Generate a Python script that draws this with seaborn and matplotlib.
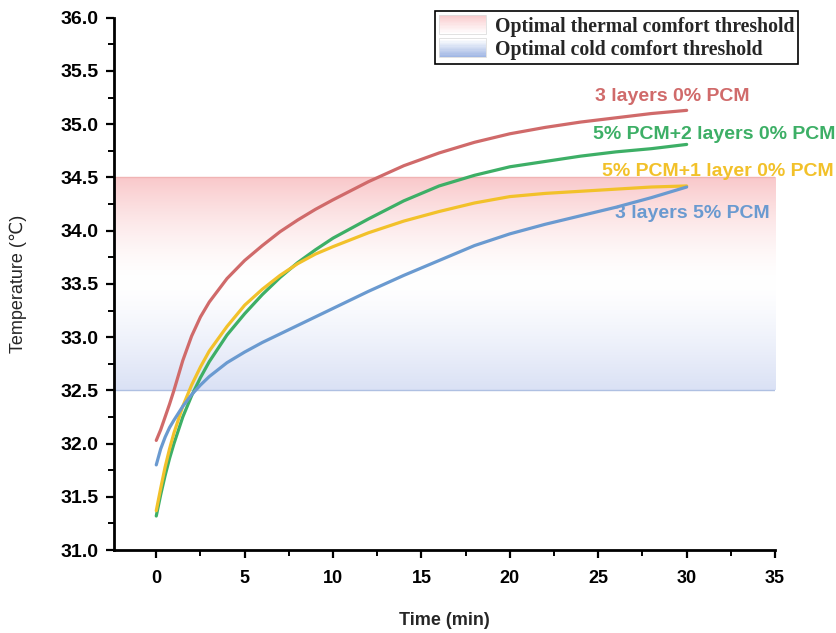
import numpy as np
import pandas as pd
import matplotlib
matplotlib.use("Agg")
import matplotlib.pyplot as plt
import seaborn as sns
from matplotlib.patches import Rectangle
from matplotlib.legend_handler import HandlerBase
from matplotlib.ticker import MultipleLocator

# -------------------------------
# Data
# -------------------------------
time_min = [0, 0.25, 0.5, 0.75, 1, 1.5, 2, 2.5, 3, 4, 5, 6, 7, 8, 9, 10,
            12, 14, 16, 18, 20, 22, 24, 26, 28, 30]

red_3l_0 = [32.03, 32.13, 32.25, 32.37, 32.50, 32.78, 33.01, 33.19, 33.33, 33.55, 33.72,
            33.86, 33.99, 34.10, 34.20, 34.29, 34.46, 34.61, 34.73, 34.83, 34.91, 34.97,
            35.02, 35.06, 35.10, 35.13]
green_5_2l = [31.32, 31.52, 31.70, 31.86, 32.00, 32.25, 32.45, 32.62, 32.77, 33.02, 33.22,
              33.40, 33.56, 33.70, 33.82, 33.93, 34.11, 34.28, 34.42, 34.52, 34.60, 34.65,
              34.70, 34.74, 34.77, 34.81]
yellow_5_1l = [31.37, 31.58, 31.78, 31.95, 32.10, 32.35, 32.55, 32.72, 32.87, 33.10, 33.30,
               33.45, 33.58, 33.69, 33.78, 33.85, 33.98, 34.09, 34.18, 34.26, 34.32, 34.35,
               34.37, 34.39, 34.41, 34.42]
blue_3l_5 = [31.80, 31.95, 32.06, 32.15, 32.22, 32.35, 32.46, 32.55, 32.63, 32.76, 32.86,
             32.95, 33.03, 33.11, 33.19, 33.27, 33.43, 33.58, 33.72, 33.86, 33.97, 34.06,
             34.14, 34.22, 34.31, 34.41]

series_names = ["3 layers 0% PCM", "5% PCM+2 layers 0% PCM",
                "5% PCM+1 layer 0% PCM", "3 layers 5% PCM"]
series_values = [red_3l_0, green_5_2l, yellow_5_1l, blue_3l_5]
colors = ["#D06A6A", "#3DAF66", "#F2C12A", "#6A9AD0"]

thermal_band = (33.5, 34.5)
cold_band = (32.5, 33.5)

rows = []
for name, vals in zip(series_names, series_values):
    for t, v in zip(time_min, vals):
        rows.append({"Time": t, "Temperature": v, "Series": name})
df = pd.DataFrame(rows)

# -------------------------------
# Style
# -------------------------------
sns.set_style("ticks")
plt.rcParams["font.family"] = ["Liberation Sans", "DejaVu Sans"]

fig = plt.figure(figsize=(8.37, 6.33), dpi=100)
ax = fig.add_axes([0.136, 0.131, 0.790, 0.841])

x_left, x_right = -2.4, 35

# gradient bands
pink = np.array([249, 200, 202]) / 255
blue = np.array([218, 225, 245]) / 255
white = np.ones(3)
g = np.linspace(0, 1, 256)
w_pink = (g ** 1.6)[:, None, None]
img_pink = np.repeat(white * (1 - w_pink) + pink * w_pink, 2, axis=1)
ax.imshow(img_pink, extent=[x_left, 35, thermal_band[0], thermal_band[1]],
          origin="lower", aspect="auto", zorder=0)
w_blue = ((1 - g) ** 1.3)[:, None, None]
img_blue = np.repeat(white * (1 - w_blue) + blue * w_blue, 2, axis=1)
ax.imshow(img_blue, extent=[x_left, 35, cold_band[0], cold_band[1]],
          origin="lower", aspect="auto", zorder=0)
ax.plot([x_left, 35], [thermal_band[1]] * 2, color="#F0B4B4", lw=1, zorder=1)
ax.plot([x_left, 35], [cold_band[0]] * 2, color="#AFC0E2", lw=1, zorder=1)

sns.lineplot(data=df, x="Time", y="Temperature", hue="Series",
             palette=dict(zip(series_names, colors)), linewidth=2.3,
             legend=False, ax=ax, zorder=3)

ax.set_xlim(x_left, 35)
ax.set_ylim(31, 36)
ax.set_xticks(np.arange(0, 36, 5))
ax.set_yticks(np.arange(31, 36.01, 0.5))
ax.xaxis.set_minor_locator(MultipleLocator(2.5))
ax.yaxis.set_minor_locator(MultipleLocator(0.25))
ax.set_yticklabels([f"{v:.1f}" for v in np.arange(31, 36.01, 0.5)],
                   fontsize=14, fontweight="bold")
ax.set_xticklabels([str(v) for v in range(0, 36, 5)],
                   fontsize=13, fontweight="bold")
ax.tick_params(which="major", length=6, width=1.6, direction="out", colors="black")
ax.tick_params(which="minor", length=4, width=1.4, direction="out", colors="black")
ax.tick_params(axis="x", pad=8)
ax.tick_params(axis="y", pad=5)

sns.despine(ax=ax)
for s in ["left", "bottom"]:
    ax.spines[s].set_linewidth(2)
    ax.spines[s].set_color("black")

ax.set_xlabel("Time (min)", fontsize=13, fontweight="bold", labelpad=18)
ax.set_ylabel("Temperature (℃)", fontsize=13, labelpad=24)

# series labels
lab = dict(fontsize=14, fontweight="bold", va="center", clip_on=False)
ax.text(29.2, 35.26, series_names[0], color=colors[0], ha="center", **lab)
ax.text(38.4, 34.90, series_names[1], color=colors[1], ha="right", **lab)
ax.text(38.3, 34.56, series_names[2], color=colors[2], ha="right", **lab)
ax.text(30.3, 34.16, series_names[3], color=colors[3], ha="center", **lab)


# gradient legend handles
class GradientHandle:
    def __init__(self, top, bottom):
        self.top = top
        self.bottom = bottom


class HandlerGradient(HandlerBase):
    def create_artists(self, legend, orig_handle, xdescent, ydescent,
                       width, height, fontsize, trans):
        n = 14
        arts = []
        for i in range(n):
            f = i / (n - 1)
            c = orig_handle.bottom * (1 - f) + orig_handle.top * f
            r = Rectangle((-xdescent, -ydescent + height * i / n), width, height / n + 0.3,
                          facecolor=c, edgecolor="none", transform=trans)
            arts.append(r)
        arts.append(Rectangle((-xdescent, -ydescent), width, height, facecolor="none",
                              edgecolor="#DDDDDD", lw=0.6, transform=trans))
        return arts


h1 = GradientHandle(np.array([250, 205, 207]) / 255, white)
h2 = GradientHandle(white, np.array([160, 182, 228]) / 255)
leg = fig.legend([h1, h2], ["Optimal thermal comfort threshold", "Optimal cold comfort threshold"],
                 handler_map={GradientHandle: HandlerGradient()},
                 loc="upper right", bbox_to_anchor=(0.954, 0.982),
                 prop={"family": "Liberation Serif", "weight": "bold", "size": 14.2},
                 frameon=True, fancybox=False, edgecolor="black", framealpha=1,
                 borderpad=0.2, handlelength=2.4, handleheight=1.1, handletextpad=0.45,
                 labelspacing=0.1, borderaxespad=0)
leg.get_frame().set_linewidth(1.2)

fig.savefig("out.png", dpi=100)
